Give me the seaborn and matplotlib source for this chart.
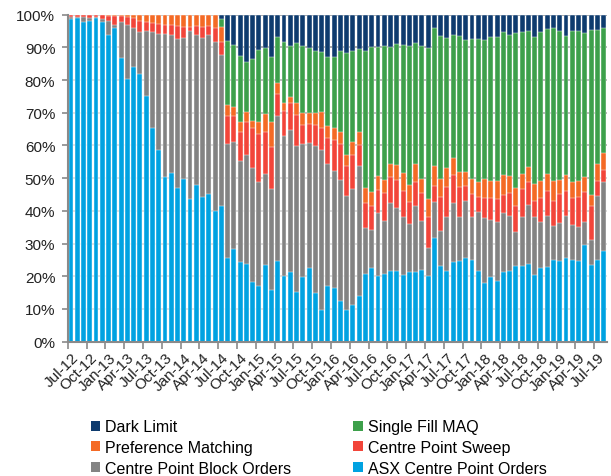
import numpy as np
import pandas as pd
import matplotlib
matplotlib.use("Agg")
import matplotlib.pyplot as plt
import seaborn as sns
from matplotlib.patches import Patch
from matplotlib.ticker import PercentFormatter, FixedLocator

# Meses Jul-12 .. Aug-19
months = list(pd.date_range("2012-07-01", periods=86, freq="MS").strftime("%b-%y"))

# Cuotas (%), por mes
asx_cp = [98.7, 98.9, 97.7, 98.2, 98.9, 97.8, 93.8, 95.9, 86.7, 80.2, 83.9, 81.9, 75.2, 65.2, 58.6,
          50.5, 51.7, 46.9, 49.7, 43.6, 48.0, 44.1, 45.2, 40.1, 41.6, 25.7, 28.3, 24.3, 23.8, 18.1,
          16.9, 23.6, 15.9, 24.8, 20.0, 21.4, 15.1, 19.7, 22.4, 14.9, 9.8, 17.1, 16.3, 12.3, 9.7,
          11.3, 13.9, 20.7, 22.4, 20.2, 20.6, 21.6, 21.7, 20.5, 21.2, 21.4, 21.8, 20.2, 31.6, 23.0,
          21.7, 24.3, 24.8, 25.5, 25.1, 21.7, 17.9, 19.7, 18.7, 21.2, 21.7, 23.0, 23.0, 23.8, 20.5,
          22.5, 22.9, 25.0, 24.8, 25.5, 25.1, 24.8, 29.6, 23.4, 25.1, 27.8]
block = [0.6, 0.5, 1.5, 0.8, 0.5, 0.8, 4.2, 1.0, 11.0, 16.7, 11.9, 12.7, 19.9, 29.4, 35.5,
         43.6, 42.2, 45.7, 43.3, 51.5, 45.9, 48.8, 48.7, 51.4, 46.1, 34.7, 32.7, 31.0, 33.4, 34.9,
         32.0, 27.6, 30.7, 44.1, 42.8, 43.4, 44.8, 40.7, 38.4, 45.0, 48.9, 37.2, 36.0, 37.2, 34.9,
         35.4, 39.7, 14.0, 11.7, 19.1, 16.2, 20.8, 19.1, 17.5, 14.7, 20.0, 15.0, 8.4, 11.0, 10.9,
         16.3, 18.0, 13.4, 17.6, 13.1, 17.9, 20.0, 17.5, 17.8, 18.0, 16.6, 10.4, 15.2, 18.0, 17.5,
         14.0, 15.4, 10.3, 11.5, 12.8, 10.6, 10.2, 7.1, 7.8, 19.3, 20.9]
sweep = [0.7, 0.6, 0.8, 1.0, 0.6, 1.4, 1.7, 2.6, 1.8, 2.5, 3.2, 3.4, 2.6, 2.9, 3.0,
         2.8, 3.0, 4.0, 3.3, 1.0, 2.7, 3.2, 2.7, 4.4, 4.1, 8.5, 7.9, 8.9, 10.1, 12.2,
         14.6, 13.0, 12.8, 6.8, 7.8, 8.2, 9.4, 5.9, 5.8, 6.5, 6.5, 7.9, 9.5, 10.9, 9.0,
         10.5, 6.5, 7.6, 7.3, 7.2, 8.7, 8.1, 8.6, 8.2, 6.9, 7.5, 8.6, 9.4, 5.1, 10.2,
         9.2, 8.8, 9.0, 4.6, 7.0, 4.5, 6.0, 6.6, 7.1, 5.8, 7.2, 8.2, 8.5, 6.9, 5.1,
         7.3, 7.9, 7.8, 8.9, 7.9, 8.1, 9.1, 9.2, 10.2, 4.8, 3.9]
preference = [0, 0, 0, 0, 0, 0, 0.3, 0.5, 0.5, 0.6, 1.0, 2.0, 2.3, 2.5, 2.9,
              3.1, 3.1, 3.4, 3.7, 3.9, 3.4, 3.9, 3.4, 4.1, 4.3, 3.6, 3.0, 2.9, 2.8, 2.4,
              3.6, 5.4, 7.7, 3.4, 2.3, 1.7, 3.6, 3.6, 3.3, 3.5, 5.1, 3.9, 3.4, 3.6, 3.5,
              4.0, 3.9, 4.6, 4.3, 4.1, 4.0, 3.8, 4.6, 5.4, 5.2, 5.4, 4.5, 5.6, 5.9, 5.8,
              5.8, 5.0, 4.8, 4.3, 4.7, 4.8, 5.8, 5.4, 5.6, 6.0, 5.1, 5.3, 4.6, 4.6, 5.1,
              5.2, 5.1, 5.9, 4.2, 4.8, 5.1, 5.1, 4.4, 3.5, 5.1, 5.1]
maq = [0] * 24 + [2.6, 19.6, 18.8, 20.4, 15.5, 18.8,
                  22.1, 20.1, 19.9, 14.0, 18.6, 15.6, 18.4, 20.4, 19.8, 19.1, 18.4, 20.9, 21.8, 25.0, 31.2,
                  27.8, 25.5, 42.1, 44.3, 39.4, 41.0, 35.7, 37.0, 39.1, 42.3, 37.0, 40.4, 46.1, 42.2, 43.7,
                  39.8, 37.7, 41.4, 40.4, 42.7, 43.7, 42.7, 44.1, 44.1, 43.6, 43.2, 47.5, 43.3, 41.8, 44.9,
                  45.6, 44.3, 46.9, 45.7, 42.4, 46.0, 45.7, 44.1, 50.4, 41.1, 38.1]
dark = [0] * 24 + [1.3, 7.9, 9.3, 12.5, 14.4, 13.6,
                   10.8, 10.3, 13.0, 6.9, 8.5, 9.7, 8.7, 9.7, 10.3, 11.0, 11.3, 13.0, 13.0, 11.0, 11.7,
                   11.0, 10.5, 11.0, 10.0, 10.0, 9.5, 10.0, 9.0, 9.3, 9.7, 8.7, 9.7, 10.3, 4.2, 6.4,
                   7.2, 6.2, 6.6, 7.6, 7.4, 7.4, 7.6, 6.7, 6.7, 5.4, 6.2, 5.6, 5.4, 4.9, 6.9,
                   5.4, 4.4, 4.1, 4.9, 6.6, 5.1, 5.1, 5.6, 4.7, 4.6, 4.2]

series = ["ASX Centre Point Orders", "Centre Point Block Orders", "Centre Point Sweep",
          "Preference Matching", "Single Fill MAQ", "Dark Limit"]
colors = ["#00A2E1", "#838383", "#F2453A", "#F46A25", "#3DA04B", "#0E3B6E"]

df = pd.DataFrame({"ASX Centre Point Orders": asx_cp, "Centre Point Block Orders": block,
                   "Centre Point Sweep": sweep, "Preference Matching": preference,
                   "Single Fill MAQ": maq, "Dark Limit": dark}, index=months)
# 100% apilado
df = df.div(df.sum(axis=1), axis=0) * 100
cum = df.cumsum(axis=1)

plt.rcParams["font.family"] = ["Liberation Sans", "DejaVu Sans"]
fig = plt.figure(figsize=(6.11, 4.77), dpi=100)
ax = fig.add_axes([0.111, 0.2816, 0.882, 0.6855])

# barras apiladas: de arriba hacia abajo, cada una sobre la anterior
for name, c in zip(series[::-1], colors[::-1]):
    sns.barplot(x=months, y=cum[name].values, color=c, saturation=1, width=0.78,
                edgecolor="white", linewidth=0.3, ax=ax)

ax.set_ylim(0, 100)
ax.set_xlim(-0.5, len(months) - 0.5)
ax.yaxis.set_major_locator(FixedLocator(np.arange(0, 101, 10)))
ax.yaxis.set_major_formatter(PercentFormatter(decimals=0))
ax.yaxis.grid(True, color="#8a8a8a", linewidth=1.3)
ax.set_axisbelow(True)

ax.set_xticks(range(0, len(months), 3))
ax.set_xticklabels(months[::3], rotation=45, ha="right", rotation_mode="anchor")
ax.set_xticks(np.arange(-0.5, len(months), 3), minor=True)
ax.tick_params(axis="x", which="major", length=0, pad=6, labelsize=11, colors="#222222")
ax.tick_params(axis="x", which="minor", length=5, width=1.2, color="#8a8a8a")
ax.tick_params(axis="y", length=4, width=1.2, color="#8a8a8a", labelsize=11,
               labelcolor="#222222", pad=5)
ax.set_xlabel("")
ax.set_ylabel("")

for s in ["top", "right"]:
    ax.spines[s].set_visible(False)
for s in ["left", "bottom"]:
    ax.spines[s].set_color("#8a8a8a")
    ax.spines[s].set_linewidth(1.5)

handles = [Patch(facecolor=c, label=n) for n, c in zip(series, colors)]
order = [5, 3, 1, 4, 2, 0]
fig.legend([handles[i] for i in order], [series[i] for i in order], ncol=2,
           loc="upper left", bbox_to_anchor=(0.138, 0.132), frameon=False,
           fontsize=11.5, handlelength=0.6, handleheight=0.6, handletextpad=0.3,
           columnspacing=3.9, labelspacing=0.35, borderaxespad=0)

fig.savefig("out.png", dpi=100)
